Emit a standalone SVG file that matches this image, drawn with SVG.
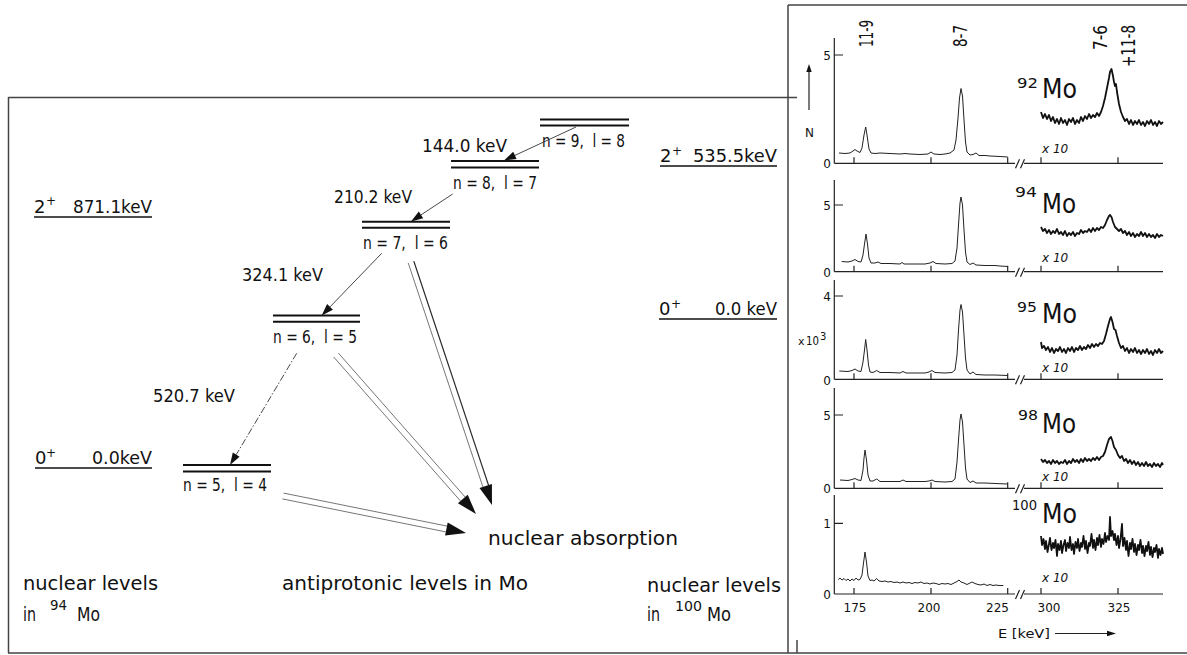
<svg xmlns="http://www.w3.org/2000/svg" width="1187" height="655" viewBox="0 0 1187 655">
<style>
 text { font-family: "DejaVu Sans", "Liberation Sans", sans-serif; fill: #111; white-space: pre; }
 .lbl { font-size: 18px; }
 .big { font-size: 19px; }
 .sup { font-size: 12px; }
 .dbl { stroke: #111; stroke-width: 2; }
 .nuc { stroke: #111; stroke-width: 1.6; }
 .frame { stroke: #444; stroke-width: 1.5; fill: none; }
 .ax { stroke: #222; stroke-width: 1.2; fill: none; }
 .spl { stroke: #222; stroke-width: 1; fill: none; stroke-linejoin: round; }
 .sph { stroke: #111; stroke-width: 1.8; fill: none; stroke-linejoin: round; }
 .tk { font-size: 12px; }
 .iso { font-size: 27px; }
 .isosup { font-size: 14px; }
 .x10 { font-size: 12px; font-style: italic; }
 .pk { font-size: 19px; }
 .tr { stroke: #333; stroke-width: 0.9; fill: none; }
 .abs { stroke: #666; stroke-width: 0.9; fill: none; }
 .absd { stroke: #222; stroke-width: 1.2; fill: none; }
 .head { fill: #111; stroke: none; }
</style>
<defs>
 <g id="xaxis">
  <path class="ax" d="M834.3,0 H1015 M1024,0 H1163 M854,0 v-6 M931,0 v-6 M1007.7,0 v-6 M1041,0 v-6 M1118,0 v-6"/>
  <path class="ax" d="M1015.5,5 L1019.5,-4 M1020.5,5 L1024.5,-4"/>
 </g>
</defs>
<rect width="1187" height="655" fill="#fff"/>

<!-- frames -->
<g id="frames">
 <path class="frame" d="M8.5,97.5 H797 M8.5,97 V653 M8,653 H1187 M788,5 V653 M788,5 H1187 M797,640 V653"/>
</g>

<!-- nuclear levels 94Mo -->
<g id="nuc94-2plus">
 <line class="nuc" x1="34" y1="217" x2="152" y2="217"/>
 <text class="lbl" x="34" y="213">2</text>
 <text class="sup" x="46" y="205">+</text>
 <text class="lbl" x="73" y="213" textLength="79" lengthAdjust="spacingAndGlyphs">871.1keV</text>
</g>
<g id="nuc94-0plus">
 <line class="nuc" x1="35" y1="468" x2="152" y2="468"/>
 <text class="lbl" x="35" y="464">0</text>
 <text class="sup" x="46" y="457">+</text>
 <text class="lbl" x="92" y="464" textLength="60" lengthAdjust="spacingAndGlyphs">0.0keV</text>
</g>
<!-- nuclear levels 100Mo -->
<g id="nuc100-2plus">
 <line class="nuc" x1="660" y1="166" x2="777" y2="166"/>
 <text class="lbl" x="660" y="162">2</text>
 <text class="sup" x="672" y="155">+</text>
 <text class="lbl" x="693" y="162" textLength="84" lengthAdjust="spacingAndGlyphs">535.5keV</text>
</g>
<g id="nuc100-0plus">
 <line class="nuc" x1="659" y1="319" x2="777" y2="319"/>
 <text class="lbl" x="659" y="315">0</text>
 <text class="sup" x="671" y="308">+</text>
 <text class="lbl" x="715" y="315" textLength="62" lengthAdjust="spacingAndGlyphs">0.0 keV</text>
</g>

<!-- antiprotonic levels -->
<g id="level-n9">
 <path class="dbl" d="M540,119.5 H629 M540,125.5 H629"/>
 <text class="lbl" x="542" y="147" textLength="83" lengthAdjust="spacingAndGlyphs">n = 9,  l = 8</text>
</g>
<g id="level-n8">
 <path class="dbl" d="M451,161 H539 M451,167.5 H539"/>
 <text class="lbl" x="453" y="189" textLength="84" lengthAdjust="spacingAndGlyphs">n = 8,  l = 7</text>
</g>
<g id="level-n7">
 <path class="dbl" d="M362,221.7 H450 M362,227.7 H450"/>
 <text class="lbl" x="363" y="249" textLength="85" lengthAdjust="spacingAndGlyphs">n = 7,  l = 6</text>
</g>
<g id="level-n6">
 <path class="dbl" d="M273,315.5 H360 M273,321.7 H360"/>
 <text class="lbl" x="273" y="343" textLength="84" lengthAdjust="spacingAndGlyphs">n = 6,  l = 5</text>
</g>
<g id="level-n5">
 <path class="dbl" d="M183,465 H271 M183,471.5 H271"/>
 <text class="lbl" x="183" y="490.5" textLength="84" lengthAdjust="spacingAndGlyphs">n = 5,  l = 4</text>
</g>

<!-- connectors -->
<g id="connectors">
 <path class="tr" d="M576,127 L514.9,155.4"/>
 <polygon class="head" points="504,160.5 513.2,151.8 516.6,159"/>
 <path class="tr" d="M452.7,194 L421,214.9"/>
 <polygon class="head" points="411,221.5 418.8,211.6 423.2,218.2"/>
 <path class="tr" d="M381.7,253.3 L330,306.9"/>
 <polygon class="head" points="321.7,315.5 327.1,304.1 332.9,309.7"/>
 <path class="tr" stroke-dasharray="7 2 1.5 2" d="M296.7,353.3 L236.2,454.7"/>
 <polygon class="head" points="230,465 232.8,452.6 239.6,456.8"/>

 <path class="abs" d="M408.2,262.9 L482.9,486.9"/>
 <path class="absd" d="M413.8,261.1 L488.5,485.1"/>
 <polygon class="head" points="492,505 479.5,488.1 491.9,483.9"/>
 <path class="abs" d="M333.7,357 L460.5,501 M338.3,353 L465.1,497"/>
 <polygon class="head" points="476,514 457.9,503.3 467.7,494.7"/>
 <path class="abs" d="M282.4,498.9 L445.8,531.9 M283.6,493.1 L447,526.1"/>
 <polygon class="head" points="466,533 445.1,535.4 447.7,522.6"/>
</g>

<!-- transition energy labels -->
<g id="energies">
 <text class="lbl" x="422" y="152" textLength="85" lengthAdjust="spacingAndGlyphs">144.0 keV</text>
 <text class="lbl" x="334" y="203" textLength="78" lengthAdjust="spacingAndGlyphs">210.2 keV</text>
 <text class="lbl" x="242" y="281" textLength="81" lengthAdjust="spacingAndGlyphs">324.1 keV</text>
 <text class="lbl" x="153" y="402" textLength="82" lengthAdjust="spacingAndGlyphs">520.7 keV</text>
</g>

<g id="captions">
 <text class="big" x="488" y="545" textLength="190" lengthAdjust="spacingAndGlyphs">nuclear absorption</text>
 <text class="big" x="23" y="590" textLength="135" lengthAdjust="spacingAndGlyphs">nuclear levels</text>
 <text class="big" x="23" y="621" textLength="13" lengthAdjust="spacingAndGlyphs">in</text>
 <text x="50" y="610" style="font-size:14px" textLength="17" lengthAdjust="spacingAndGlyphs">94</text>
 <text class="big" x="77" y="621" textLength="23" lengthAdjust="spacingAndGlyphs">Mo</text>
 <text class="big" x="282" y="590" textLength="246" lengthAdjust="spacingAndGlyphs">antiprotonic levels in Mo</text>
 <text class="big" x="647" y="592" textLength="134" lengthAdjust="spacingAndGlyphs">nuclear levels</text>
 <text class="big" x="647" y="621" textLength="13" lengthAdjust="spacingAndGlyphs">in</text>
 <text x="675" y="611" style="font-size:14px" textLength="27" lengthAdjust="spacingAndGlyphs">100</text>
 <text class="big" x="707" y="621" textLength="24" lengthAdjust="spacingAndGlyphs">Mo</text>
</g>

<!-- spectra panel -->
<g id="spectra">
 <!-- peak labels -->
 <text class="pk" transform="translate(873,47) rotate(-90)" textLength="27" lengthAdjust="spacingAndGlyphs">11-9</text>
 <text class="pk" transform="translate(967,47) rotate(-90)" textLength="22" lengthAdjust="spacingAndGlyphs">8-7</text>
 <text class="pk" transform="translate(1107,50) rotate(-90)" textLength="25" lengthAdjust="spacingAndGlyphs">7-6</text>
 <text class="pk" transform="translate(1135,67) rotate(-90)" textLength="42" lengthAdjust="spacingAndGlyphs">+11-8</text>

 <!-- N axis arrow -->
 <path class="ax" d="M809,110 V71"/>
 <polygon class="head" points="809,64 806.3,72 811.7,72"/>
 <text class="tk" x="805" y="137">N</text>

 <!-- panel 1 : 92Mo -->
 <g id="panel-92">
  <path class="ax" d="M834.3,38 V163.3 M834.3,55 H843"/>
  <use href="#xaxis" transform="translate(0,163.3)"/>
  <text class="tk" x="831" y="60" text-anchor="end">5</text>
  <text class="tk" x="831" y="168" text-anchor="end">0</text>
  <polyline class="spl" points="839,153 845,153.5 850,153 853,151 855,149.5 857,151 860,152.5 862,148 864,135 865.7,127 867,135 869,149 871,153 875,153.5 880,153 890,153.5 900,154 905,153.5 910,154 920,154.5 928,154 931,152 934,154 940,154.5 945,154 950,153 954,150 956,140 958,118 959.5,98 961,88.5 962.5,96 964,120 965.5,142 967,152 970,155 973,154.5 976,153 979,155.5 985,155.5 990,156 1000,156.5 1007.7,157"/>
  <polyline class="sph" points="1041,112 1043,118 1045,114 1047,119 1049,115 1051,121 1053,117 1055,123 1057,119 1059,124 1061,118 1063,123 1065,120 1067,125 1069,119 1071,122 1073,118 1075,124 1077,120 1079,123 1081,117 1083,121 1085,116 1087,119 1089,114 1091,118 1093,115 1095,117 1097,113 1099,116 1101,112 1103,106 1105,98 1107,88 1109,78 1110,72 1111.5,69 1113,76 1114,82 1115,86 1116,84 1117,92 1119,104 1121,112 1123,117 1125,121 1127,119 1129,124 1131,120 1133,125 1135,121 1137,124 1139,120 1141,125 1143,122 1145,126 1147,121 1149,124 1151,120 1153,125 1155,122 1157,126 1159,121 1161,124 1163,122"/>
  <text class="isosup" x="1017" y="88" textLength="21" lengthAdjust="spacingAndGlyphs">92</text>
  <text class="iso" x="1042" y="98" textLength="35" lengthAdjust="spacingAndGlyphs">Mo</text>
  <text class="x10" x="1042" y="153">x 10</text>
 </g>

 <!-- panel 2 : 94Mo -->
 <g id="panel-94">
  <path class="ax" d="M834.3,180 V271.7 M834.3,205 H843"/>
  <use href="#xaxis" transform="translate(0,271.7)"/>
  <text class="tk" x="831" y="210" text-anchor="end">5</text>
  <text class="tk" x="831" y="277" text-anchor="end">0</text>
  <polyline class="spl" points="841.7,261.5 848,262 852,261 855,259.5 858,261.5 861,262 863,255 864.5,244 866,234 867.5,244 869,258 871,263 875,263 878,262 881,263.5 890,263.5 900,264 902,262.5 904,264 915,264 925,264 930,263 933,261.5 936,263.5 945,264 952,263.5 955,261 957,248 958.5,225 960,203 961,197 962.5,205 964,230 965.5,252 967,262 970,264.5 973,263 976,265 985,265.5 995,265.5 1000,266 1007.7,266.5"/>
  <polyline class="sph" points="1041,227 1043,231 1045,229 1047,233 1049,230 1051,234 1053,231 1055,233 1057,229 1059,234 1061,232 1063,235 1065,231 1067,236 1069,233 1071,235 1073,232 1075,236 1077,233 1079,234 1081,230 1083,233 1085,231 1087,232 1089,229 1091,232 1093,228 1095,231 1097,228 1099,230 1101,227 1103,228 1105,225 1107,220 1109,216 1110,215 1111.5,217 1113,222 1115,227 1117,229 1119,231 1121,229 1123,233 1125,231 1127,235 1129,232 1131,236 1133,233 1135,237 1137,234 1139,236 1141,232 1143,236 1145,233 1147,237 1149,234 1151,237 1153,235 1155,238 1157,234 1159,237 1161,235 1163,236"/>
  <text class="isosup" x="1015" y="197" textLength="22" lengthAdjust="spacingAndGlyphs">94</text>
  <text class="iso" x="1042" y="213" textLength="34" lengthAdjust="spacingAndGlyphs">Mo</text>
  <text class="x10" x="1042" y="261.5">x 10</text>
 </g>

 <!-- panel 3 : 95Mo -->
 <g id="panel-95">
  <path class="ax" d="M834.3,280 V379.3 M834.3,296 H843"/>
  <use href="#xaxis" transform="translate(0,379.3)"/>
  <text class="tk" x="831" y="301" text-anchor="end">4</text>
  <text class="tk" x="831" y="384.5" text-anchor="end">0</text>
  <text class="tk" x="798" y="344.5" style="font-size:11px">x</text>
  <text class="tk" x="806" y="344.5" textLength="13" lengthAdjust="spacingAndGlyphs">10</text>
  <text class="tk" x="820" y="340" style="font-size:10px">3</text>
  <polyline class="spl" points="839.3,371 848,371.5 852,370.5 855,369 858,371 861,371.5 863,362 864.5,350 865.7,339.5 867,350 868.5,365 870,372 873,372.5 876.7,370.5 880,372.5 890,372.5 900,373 903,371.5 906,373 915,373 925,373 929,372 932,370.5 935,372.5 945,373 952,372.5 955,370 957,355 958.5,330 960,310 961,304.5 962.5,312 964,335 965.5,358 967,370 970,374 973,372 976,374.5 985,375 995,375 1007.7,375.5"/>
  <polyline class="sph" points="1041,342 1042,348 1044,346 1046,350 1048,347 1050,352 1052,348 1054,353 1056,349 1058,351 1060,347 1062,352 1064,349 1066,353 1068,348 1070,351 1072,347 1074,352 1076,348 1078,350 1080,346 1082,350 1084,347 1086,349 1088,345 1090,348 1092,344 1094,347 1096,344 1098,346 1100,343 1102,344 1104,341 1106,334 1108,326 1110,319 1111,317 1112.5,322 1114,329 1115.5,330 1117,336 1119,343 1121,348 1123,346 1125,351 1127,348 1129,353 1131,349 1133,352 1135,348 1137,353 1139,350 1141,354 1143,350 1145,353 1147,349 1149,354 1151,351 1153,355 1155,350 1157,353 1159,349 1161,353 1163,351"/>
  <text class="isosup" x="1017" y="312" textLength="20" lengthAdjust="spacingAndGlyphs">95</text>
  <text class="iso" x="1042" y="323" textLength="35" lengthAdjust="spacingAndGlyphs">Mo</text>
  <text class="x10" x="1042" y="371.5">x 10</text>
 </g>

 <!-- panel 4 : 98Mo -->
 <g id="panel-98">
  <path class="ax" d="M834.3,388 V488.3 M834.3,415 H843"/>
  <use href="#xaxis" transform="translate(0,488.3)"/>
  <text class="tk" x="831" y="420" text-anchor="end">5</text>
  <text class="tk" x="831" y="493" text-anchor="end">0</text>
  <polyline class="spl" points="840,480 848,480.5 852,479.5 855,478.5 858,480 861,480.5 863,470 864,458 865,450 866.5,460 868,475 870,481 873,481 876.7,479 880,481.5 890,481.5 900,481.5 903,480 906,481.5 915,481.5 925,481.5 929,481 932,480 935,481.5 945,482 952,481.5 955,479 957,462 958.5,440 960,420 961,414 962.5,422 964,445 965.5,468 967,479 970,482.5 973,481 976,483 985,483 995,483.5 1007.7,484"/>
  <polyline class="sph" points="1041,459 1043,462 1045,460 1047,463 1049,461 1051,464 1053,460 1055,463 1057,461 1059,464 1061,462 1063,463 1065,460 1067,464 1069,461 1071,463 1073,459 1075,462 1077,460 1079,463 1081,459 1083,462 1085,458 1087,461 1089,459 1091,461 1093,458 1095,460 1097,457 1099,460 1101,457 1103,456 1105,452 1107,445 1109,439 1111,437 1112.5,441 1114,447 1116,450 1118,455 1120,458 1122,456 1124,461 1126,459 1128,463 1130,460 1132,464 1134,461 1136,465 1138,462 1140,466 1142,463 1144,466 1146,462 1148,466 1150,464 1152,467 1154,463 1156,466 1158,464 1160,467 1162,463 1163,465"/>
  <text class="isosup" x="1018" y="420" textLength="20" lengthAdjust="spacingAndGlyphs">98</text>
  <text class="iso" x="1042" y="433" textLength="34" lengthAdjust="spacingAndGlyphs">Mo</text>
  <text class="x10" x="1042" y="481">x 10</text>
 </g>

 <!-- panel 5 : 100Mo -->
 <g id="panel-100">
  <path class="ax" d="M834.3,495 V594 M834.3,523.3 H843"/>
  <use href="#xaxis" transform="translate(0,594)"/>
  <text class="tk" x="831" y="528" text-anchor="end">1</text>
  <text class="tk" x="831" y="598.5" text-anchor="end">0</text>
  <polyline class="spl" points="838.3,579.5 840,578 842,580 844,578.5 846,580.5 848,579 850,581 852,579 854,580.5 856,578 858,580 860,579.5 862,575 863.5,563 865,552 866.5,562 868,576 870,580.5 872,580 874,581 876.7,578.5 879,581 882,581.5 885,581 888,582 891,581.5 894,582.5 897,582 900,583 903,582 906,583 909,582.5 912,583.5 915,582.5 918,583 921,582 924,583.5 927,583 930,584 933,583 936,583.5 939,584.5 942,583.5 945,584 948,583.5 951,584.5 954,583 957,581.5 959,580 961,582 964,583 967,584.5 970,583 972,582 975,583.5 978,584.5 981,585 984,584 987,585.5 990,584.5 993,585.5 996,585 999,585.5 1003.3,585.5"/>
  <polyline class="sph" points="1041,536 1042,545 1043.5,539 1045,549 1046,541 1047.5,552 1049,544 1050,538 1051.5,550 1053,543 1054,548 1055.5,540 1057,556 1058,544 1059.5,550 1061,541 1062,553 1063.5,545 1065,540 1066,551 1067.5,543 1069,548 1070,537 1071.5,550 1073,544 1074,554 1075.5,542 1077,548 1078,539 1079.5,551 1081,543 1082,547 1083.5,536 1085,549 1086,541 1087.5,553 1089,543 1090,546 1091.5,534 1093,548 1094,540 1095.5,550 1097,538 1098,545 1099.5,535 1101,547 1102,539 1103.5,544 1105,533 1106,542 1107.5,536 1109,540 1110,517 1111,536 1112.5,531 1114,540 1115,534 1116.5,545 1118,536 1119,548 1120.5,539 1122,524 1123,546 1124.5,538 1126,550 1127,541 1128.5,556 1130,543 1131,549 1132.5,539 1134,552 1135,544 1136.5,555 1138,545 1139,550 1140.5,540 1142,553 1143,546 1144.5,556 1146,546 1147,551 1148.5,542 1150,555 1151,547 1152.5,557 1154,548 1155,552 1156.5,545 1158,558 1159,549 1160.5,555 1162,548 1163,554"/>
  <text class="isosup" x="1012" y="510" textLength="25" lengthAdjust="spacingAndGlyphs">100</text>
  <text class="iso" x="1042" y="523" textLength="35" lengthAdjust="spacingAndGlyphs">Mo</text>
  <text class="x10" x="1042" y="581.5">x 10</text>
 </g>

 <!-- energy axis labels -->
 <text class="tk" x="855" y="612" text-anchor="middle">175</text>
 <text class="tk" x="929" y="612" text-anchor="middle">200</text>
 <text class="tk" x="997.5" y="612" text-anchor="middle">225</text>
 <text class="tk" x="1049" y="612" text-anchor="middle">300</text>
 <text class="tk" x="1119" y="612" text-anchor="middle">325</text>
 <text class="tk" x="998" y="638" textLength="52" lengthAdjust="spacingAndGlyphs">E [keV]</text>
 <path class="ax" d="M1055,633.5 H1108"/>
 <polygon class="head" points="1116,633.5 1107,630.8 1107,636.2"/>
</g>
</svg>
